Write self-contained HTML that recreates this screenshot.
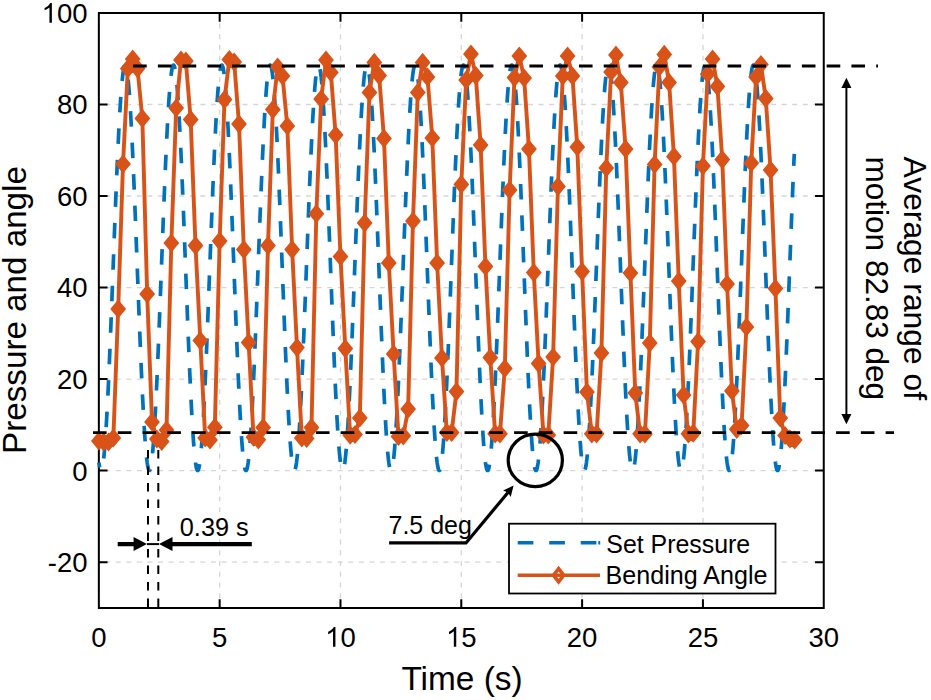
<!DOCTYPE html><html><head><meta charset="utf-8"><style>html,body{margin:0;padding:0;background:#fff;}svg{display:block;}</style></head><body>
<svg width="931" height="700" viewBox="0 0 931 700">
<rect x="0" y="0" width="931" height="700" fill="#fff"/>
<path d="M219.66 12.95 L219.66 607.9 M340.48 12.95 L340.48 607.9 M461.29 12.95 L461.29 607.9 M582.11 12.95 L582.11 607.9 M702.93 12.95 L702.93 607.9" stroke="#d6d6d6" stroke-width="1.3" stroke-dasharray="5 5.75" stroke-dashoffset="0.20" fill="none"/>
<path d="M98.85 562.13 L823.75 562.13 M98.85 470.60 L823.75 470.60 M98.85 379.07 L823.75 379.07 M98.85 287.54 L823.75 287.54 M98.85 196.01 L823.75 196.01 M98.85 104.48 L823.75 104.48" stroke="#d6d6d6" stroke-width="1.3" stroke-dasharray="5 5.57" stroke-dashoffset="4.24" fill="none"/>
<path d="M98.85 12.95 L823.75 12.95 L823.75 607.9 L98.85 607.9 Z M219.66 607.9 L219.66 600.20 M219.66 12.95 L219.66 20.65 M340.48 607.9 L340.48 600.20 M340.48 12.95 L340.48 20.65 M461.29 607.9 L461.29 600.20 M461.29 12.95 L461.29 20.65 M582.11 607.9 L582.11 600.20 M582.11 12.95 L582.11 20.65 M702.93 607.9 L702.93 600.20 M702.93 12.95 L702.93 20.65 M98.85 562.13 L106.55 562.13 M823.75 562.13 L816.05 562.13 M98.85 470.60 L106.55 470.60 M823.75 470.60 L816.05 470.60 M98.85 379.07 L106.55 379.07 M823.75 379.07 L816.05 379.07 M98.85 287.54 L106.55 287.54 M823.75 287.54 L816.05 287.54 M98.85 196.01 L106.55 196.01 M823.75 196.01 L816.05 196.01 M98.85 104.48 L106.55 104.48 M823.75 104.48 L816.05 104.48" stroke="#000" stroke-width="2" fill="none" stroke-linejoin="miter" stroke-linecap="square"/>
<path d="M98.85 462.55 L99.33 465.72 L99.82 468.10 L100.30 469.70 L100.78 470.50 L101.27 470.50 L101.75 469.70 L102.23 468.10 L102.72 465.72 L103.20 462.55 L103.68 458.61 L104.17 453.93 L104.65 448.50 L105.13 442.37 L105.62 435.54 L106.10 428.06 L106.58 419.94 L107.07 411.22 L107.55 401.93 L108.03 392.12 L108.52 381.82 L109.00 371.06 L109.48 359.90 L109.96 348.38 L110.45 336.54 L110.93 324.42 L111.41 312.09 L111.90 299.58 L112.38 286.94 L112.86 274.23 L113.35 261.49 L113.83 248.78 L114.31 236.15 L114.80 223.63 L115.28 211.30 L115.76 199.19 L116.25 187.34 L116.73 175.82 L117.21 164.66 L117.70 153.90 L118.18 143.60 L118.66 133.79 L119.15 124.50 L119.63 115.78 L120.11 107.67 L120.60 100.18 L121.08 93.36 L121.56 87.22 L122.05 81.80 L122.53 77.11 L123.01 73.17 L123.50 70.00 L123.98 67.62 L124.46 66.02 L124.95 65.22 L125.43 65.22 L125.91 66.02 L126.40 67.62 L126.88 70.00 L127.36 73.17 L127.85 77.11 L128.33 81.80 L128.81 87.22 L129.30 93.36 L129.78 100.18 L130.26 107.67 L130.75 115.78 L131.23 124.50 L131.71 133.79 L132.19 143.60 L132.68 153.90 L133.16 164.66 L133.64 175.82 L134.13 187.34 L134.61 199.19 L135.09 211.30 L135.58 223.63 L136.06 236.15 L136.54 248.78 L137.03 261.49 L137.51 274.23 L137.99 286.94 L138.48 299.58 L138.96 312.09 L139.44 324.42 L139.93 336.54 L140.41 348.38 L140.89 359.90 L141.38 371.06 L141.86 381.82 L142.34 392.12 L142.83 401.93 L143.31 411.22 L143.79 419.94 L144.28 428.06 L144.76 435.54 L145.24 442.37 L145.73 448.50 L146.21 453.93 L146.69 458.61 L147.18 462.55 L147.66 465.72 L148.14 468.10 L148.63 469.70 L149.11 470.50 L149.59 470.50 L150.08 469.70 L150.56 468.10 L151.04 465.72 L151.53 462.55 L152.01 458.61 L152.49 453.93 L152.98 448.50 L153.46 442.37 L153.94 435.54 L154.42 428.06 L154.91 419.94 L155.39 411.22 L155.87 401.93 L156.36 392.12 L156.84 381.82 L157.32 371.06 L157.81 359.90 L158.29 348.38 L158.77 336.54 L159.26 324.42 L159.74 312.09 L160.22 299.58 L160.71 286.94 L161.19 274.23 L161.67 261.49 L162.16 248.78 L162.64 236.15 L163.12 223.63 L163.61 211.30 L164.09 199.19 L164.57 187.34 L165.06 175.82 L165.54 164.66 L166.02 153.90 L166.51 143.60 L166.99 133.79 L167.47 124.50 L167.96 115.78 L168.44 107.67 L168.92 100.18 L169.41 93.36 L169.89 87.22 L170.37 81.80 L170.86 77.11 L171.34 73.17 L171.82 70.00 L172.31 67.62 L172.79 66.02 L173.27 65.22 L173.76 65.22 L174.24 66.02 L174.72 67.62 L175.21 70.00 L175.69 73.17 L176.17 77.11 L176.65 81.80 L177.14 87.22 L177.62 93.36 L178.10 100.18 L178.59 107.67 L179.07 115.78 L179.55 124.50 L180.04 133.79 L180.52 143.60 L181.00 153.90 L181.49 164.66 L181.97 175.82 L182.45 187.34 L182.94 199.19 L183.42 211.30 L183.90 223.63 L184.39 236.15 L184.87 248.78 L185.35 261.49 L185.84 274.23 L186.32 286.94 L186.80 299.58 L187.29 312.09 L187.77 324.42 L188.25 336.54 L188.74 348.38 L189.22 359.90 L189.70 371.06 L190.19 381.82 L190.67 392.12 L191.15 401.93 L191.64 411.22 L192.12 419.94 L192.60 428.06 L193.09 435.54 L193.57 442.37 L194.05 448.50 L194.54 453.93 L195.02 458.61 L195.50 462.55 L195.99 465.72 L196.47 468.10 L196.95 469.70 L197.44 470.50 L197.92 470.50 L198.40 469.70 L198.88 468.10 L199.37 465.72 L199.85 462.55 L200.33 458.61 L200.82 453.93 L201.30 448.50 L201.78 442.37 L202.27 435.54 L202.75 428.06 L203.23 419.94 L203.72 411.22 L204.20 401.93 L204.68 392.12 L205.17 381.82 L205.65 371.06 L206.13 359.90 L206.62 348.38 L207.10 336.54 L207.58 324.42 L208.07 312.09 L208.55 299.58 L209.03 286.94 L209.52 274.23 L210.00 261.49 L210.48 248.78 L210.97 236.15 L211.45 223.63 L211.93 211.30 L212.42 199.19 L212.90 187.34 L213.38 175.82 L213.87 164.66 L214.35 153.90 L214.83 143.60 L215.32 133.79 L215.80 124.50 L216.28 115.78 L216.77 107.67 L217.25 100.18 L217.73 93.36 L218.22 87.22 L218.70 81.80 L219.18 77.11 L219.66 73.17 L220.15 70.00 L220.63 67.62 L221.11 66.02 L221.60 65.22 L222.08 65.22 L222.56 66.02 L223.05 67.62 L223.53 70.00 L224.01 73.17 L224.50 77.11 L224.98 81.80 L225.46 87.22 L225.95 93.36 L226.43 100.18 L226.91 107.67 L227.40 115.78 L227.88 124.50 L228.36 133.79 L228.85 143.60 L229.33 153.90 L229.81 164.66 L230.30 175.82 L230.78 187.34 L231.26 199.19 L231.75 211.30 L232.23 223.63 L232.71 236.15 L233.20 248.78 L233.68 261.49 L234.16 274.23 L234.65 286.94 L235.13 299.58 L235.61 312.09 L236.10 324.42 L236.58 336.54 L237.06 348.38 L237.55 359.90 L238.03 371.06 L238.51 381.82 L239.00 392.12 L239.48 401.93 L239.96 411.22 L240.45 419.94 L240.93 428.06 L241.41 435.54 L241.89 442.37 L242.38 448.50 L242.86 453.93 L243.34 458.61 L243.83 462.55 L244.31 465.72 L244.79 468.10 L245.28 469.70 L245.76 470.50 L246.24 470.50 L246.73 469.70 L247.21 468.10 L247.69 465.72 L248.18 462.55 L248.66 458.61 L249.14 453.93 L249.63 448.50 L250.11 442.37 L250.59 435.54 L251.08 428.06 L251.56 419.94 L252.04 411.22 L252.53 401.93 L253.01 392.12 L253.49 381.82 L253.98 371.06 L254.46 359.90 L254.94 348.38 L255.43 336.54 L255.91 324.42 L256.39 312.09 L256.88 299.58 L257.36 286.94 L257.84 274.23 L258.33 261.49 L258.81 248.78 L259.29 236.15 L259.78 223.63 L260.26 211.30 L260.74 199.19 L261.23 187.34 L261.71 175.82 L262.19 164.66 L262.68 153.90 L263.16 143.60 L263.64 133.79 L264.12 124.50 L264.61 115.78 L265.09 107.67 L265.57 100.18 L266.06 93.36 L266.54 87.22 L267.02 81.80 L267.51 77.11 L267.99 73.17 L268.47 70.00 L268.96 67.62 L269.44 66.02 L269.92 65.22 L270.41 65.22 L270.89 66.02 L271.37 67.62 L271.86 70.00 L272.34 73.17 L272.82 77.11 L273.31 81.80 L273.79 87.22 L274.27 93.36 L274.76 100.18 L275.24 107.67 L275.72 115.78 L276.21 124.50 L276.69 133.79 L277.17 143.60 L277.66 153.90 L278.14 164.66 L278.62 175.82 L279.11 187.34 L279.59 199.19 L280.07 211.30 L280.56 223.63 L281.04 236.15 L281.52 248.78 L282.01 261.49 L282.49 274.23 L282.97 286.94 L283.46 299.58 L283.94 312.09 L284.42 324.42 L284.91 336.54 L285.39 348.38 L285.87 359.90 L286.35 371.06 L286.84 381.82 L287.32 392.12 L287.80 401.93 L288.29 411.22 L288.77 419.94 L289.25 428.06 L289.74 435.54 L290.22 442.37 L290.70 448.50 L291.19 453.93 L291.67 458.61 L292.15 462.55 L292.64 465.72 L293.12 468.10 L293.60 469.70 L294.09 470.50 L294.57 470.50 L295.05 469.70 L295.54 468.10 L296.02 465.72 L296.50 462.55 L296.99 458.61 L297.47 453.93 L297.95 448.50 L298.44 442.37 L298.92 435.54 L299.40 428.06 L299.89 419.94 L300.37 411.22 L300.85 401.93 L301.34 392.12 L301.82 381.82 L302.30 371.06 L302.79 359.90 L303.27 348.38 L303.75 336.54 L304.24 324.42 L304.72 312.09 L305.20 299.58 L305.69 286.94 L306.17 274.23 L306.65 261.49 L307.14 248.78 L307.62 236.15 L308.10 223.63 L308.58 211.30 L309.07 199.19 L309.55 187.34 L310.03 175.82 L310.52 164.66 L311.00 153.90 L311.48 143.60 L311.97 133.79 L312.45 124.50 L312.93 115.78 L313.42 107.67 L313.90 100.18 L314.38 93.36 L314.87 87.22 L315.35 81.80 L315.83 77.11 L316.32 73.17 L316.80 70.00 L317.28 67.62 L317.77 66.02 L318.25 65.22 L318.73 65.22 L319.22 66.02 L319.70 67.62 L320.18 70.00 L320.67 73.17 L321.15 77.11 L321.63 81.80 L322.12 87.22 L322.60 93.36 L323.08 100.18 L323.57 107.67 L324.05 115.78 L324.53 124.50 L325.02 133.79 L325.50 143.60 L325.98 153.90 L326.47 164.66 L326.95 175.82 L327.43 187.34 L327.92 199.19 L328.40 211.30 L328.88 223.63 L329.37 236.15 L329.85 248.78 L330.33 261.49 L330.81 274.23 L331.30 286.94 L331.78 299.58 L332.26 312.09 L332.75 324.42 L333.23 336.54 L333.71 348.38 L334.20 359.90 L334.68 371.06 L335.16 381.82 L335.65 392.12 L336.13 401.93 L336.61 411.22 L337.10 419.94 L337.58 428.06 L338.06 435.54 L338.55 442.37 L339.03 448.50 L339.51 453.93 L340.00 458.61 L340.48 462.55 L340.96 465.72 L341.45 468.10 L341.93 469.70 L342.41 470.50 L342.90 470.50 L343.38 469.70 L343.86 468.10 L344.35 465.72 L344.83 462.55 L345.31 458.61 L345.80 453.93 L346.28 448.50 L346.76 442.37 L347.25 435.54 L347.73 428.06 L348.21 419.94 L348.70 411.22 L349.18 401.93 L349.66 392.12 L350.15 381.82 L350.63 371.06 L351.11 359.90 L351.59 348.38 L352.08 336.54 L352.56 324.42 L353.04 312.09 L353.53 299.58 L354.01 286.94 L354.49 274.23 L354.98 261.49 L355.46 248.78 L355.94 236.15 L356.43 223.63 L356.91 211.30 L357.39 199.19 L357.88 187.34 L358.36 175.82 L358.84 164.66 L359.33 153.90 L359.81 143.60 L360.29 133.79 L360.78 124.50 L361.26 115.78 L361.74 107.67 L362.23 100.18 L362.71 93.36 L363.19 87.22 L363.68 81.80 L364.16 77.11 L364.64 73.17 L365.13 70.00 L365.61 67.62 L366.09 66.02 L366.58 65.22 L367.06 65.22 L367.54 66.02 L368.03 67.62 L368.51 70.00 L368.99 73.17 L369.48 77.11 L369.96 81.80 L370.44 87.22 L370.93 93.36 L371.41 100.18 L371.89 107.67 L372.38 115.78 L372.86 124.50 L373.34 133.79 L373.82 143.60 L374.31 153.90 L374.79 164.66 L375.27 175.82 L375.76 187.34 L376.24 199.19 L376.72 211.30 L377.21 223.63 L377.69 236.15 L378.17 248.78 L378.66 261.49 L379.14 274.23 L379.62 286.94 L380.11 299.58 L380.59 312.09 L381.07 324.42 L381.56 336.54 L382.04 348.38 L382.52 359.90 L383.01 371.06 L383.49 381.82 L383.97 392.12 L384.46 401.93 L384.94 411.22 L385.42 419.94 L385.91 428.06 L386.39 435.54 L386.87 442.37 L387.36 448.50 L387.84 453.93 L388.32 458.61 L388.81 462.55 L389.29 465.72 L389.77 468.10 L390.26 469.70 L390.74 470.50 L391.22 470.50 L391.71 469.70 L392.19 468.10 L392.67 465.72 L393.16 462.55 L393.64 458.61 L394.12 453.93 L394.61 448.50 L395.09 442.37 L395.57 435.54 L396.05 428.06 L396.54 419.94 L397.02 411.22 L397.50 401.93 L397.99 392.12 L398.47 381.82 L398.95 371.06 L399.44 359.90 L399.92 348.38 L400.40 336.54 L400.89 324.42 L401.37 312.09 L401.85 299.58 L402.34 286.94 L402.82 274.23 L403.30 261.49 L403.79 248.78 L404.27 236.15 L404.75 223.63 L405.24 211.30 L405.72 199.19 L406.20 187.34 L406.69 175.82 L407.17 164.66 L407.65 153.90 L408.14 143.60 L408.62 133.79 L409.10 124.50 L409.59 115.78 L410.07 107.67 L410.55 100.18 L411.04 93.36 L411.52 87.22 L412.00 81.80 L412.49 77.11 L412.97 73.17 L413.45 70.00 L413.94 67.62 L414.42 66.02 L414.90 65.22 L415.39 65.22 L415.87 66.02 L416.35 67.62 L416.84 70.00 L417.32 73.17 L417.80 77.11 L418.28 81.80 L418.77 87.22 L419.25 93.36 L419.73 100.18 L420.22 107.67 L420.70 115.78 L421.18 124.50 L421.67 133.79 L422.15 143.60 L422.63 153.90 L423.12 164.66 L423.60 175.82 L424.08 187.34 L424.57 199.19 L425.05 211.30 L425.53 223.63 L426.02 236.15 L426.50 248.78 L426.98 261.49 L427.47 274.23 L427.95 286.94 L428.43 299.58 L428.92 312.09 L429.40 324.42 L429.88 336.54 L430.37 348.38 L430.85 359.90 L431.33 371.06 L431.82 381.82 L432.30 392.12 L432.78 401.93 L433.27 411.22 L433.75 419.94 L434.23 428.06 L434.72 435.54 L435.20 442.37 L435.68 448.50 L436.17 453.93 L436.65 458.61 L437.13 462.55 L437.62 465.72 L438.10 468.10 L438.58 469.70 L439.07 470.50 L439.55 470.50 L440.03 469.70 L440.51 468.10 L441.00 465.72 L441.48 462.55 L441.96 458.61 L442.45 453.93 L442.93 448.50 L443.41 442.37 L443.90 435.54 L444.38 428.06 L444.86 419.94 L445.35 411.22 L445.83 401.93 L446.31 392.12 L446.80 381.82 L447.28 371.06 L447.76 359.90 L448.25 348.38 L448.73 336.54 L449.21 324.42 L449.70 312.09 L450.18 299.58 L450.66 286.94 L451.15 274.23 L451.63 261.49 L452.11 248.78 L452.60 236.15 L453.08 223.63 L453.56 211.30 L454.05 199.19 L454.53 187.34 L455.01 175.82 L455.50 164.66 L455.98 153.90 L456.46 143.60 L456.95 133.79 L457.43 124.50 L457.91 115.78 L458.40 107.67 L458.88 100.18 L459.36 93.36 L459.85 87.22 L460.33 81.80 L460.81 77.11 L461.29 73.17 L461.78 70.00 L462.26 67.62 L462.74 66.02 L463.23 65.22 L463.71 65.22 L464.19 66.02 L464.68 67.62 L465.16 70.00 L465.64 73.17 L466.13 77.11 L466.61 81.80 L467.09 87.22 L467.58 93.36 L468.06 100.18 L468.54 107.67 L469.03 115.78 L469.51 124.50 L469.99 133.79 L470.48 143.60 L470.96 153.90 L471.44 164.66 L471.93 175.82 L472.41 187.34 L472.89 199.19 L473.38 211.30 L473.86 223.63 L474.34 236.15 L474.83 248.78 L475.31 261.49 L475.79 274.23 L476.28 286.94 L476.76 299.58 L477.24 312.09 L477.73 324.42 L478.21 336.54 L478.69 348.38 L479.18 359.90 L479.66 371.06 L480.14 381.82 L480.63 392.12 L481.11 401.93 L481.59 411.22 L482.08 419.94 L482.56 428.06 L483.04 435.54 L483.52 442.37 L484.01 448.50 L484.49 453.93 L484.97 458.61 L485.46 462.55 L485.94 465.72 L486.42 468.10 L486.91 469.70 L487.39 470.50 L487.87 470.50 L488.36 469.70 L488.84 468.10 L489.32 465.72 L489.81 462.55 L490.29 458.61 L490.77 453.93 L491.26 448.50 L491.74 442.37 L492.22 435.54 L492.71 428.06 L493.19 419.94 L493.67 411.22 L494.16 401.93 L494.64 392.12 L495.12 381.82 L495.61 371.06 L496.09 359.90 L496.57 348.38 L497.06 336.54 L497.54 324.42 L498.02 312.09 L498.51 299.58 L498.99 286.94 L499.47 274.23 L499.96 261.49 L500.44 248.78 L500.92 236.15 L501.41 223.63 L501.89 211.30 L502.37 199.19 L502.86 187.34 L503.34 175.82 L503.82 164.66 L504.31 153.90 L504.79 143.60 L505.27 133.79 L505.75 124.50 L506.24 115.78 L506.72 107.67 L507.20 100.18 L507.69 93.36 L508.17 87.22 L508.65 81.80 L509.14 77.11 L509.62 73.17 L510.10 70.00 L510.59 67.62 L511.07 66.02 L511.55 65.22 L512.04 65.22 L512.52 66.02 L513.00 67.62 L513.49 70.00 L513.97 73.17 L514.45 77.11 L514.94 81.80 L515.42 87.22 L515.90 93.36 L516.39 100.18 L516.87 107.67 L517.35 115.78 L517.84 124.50 L518.32 133.79 L518.80 143.60 L519.29 153.90 L519.77 164.66 L520.25 175.82 L520.74 187.34 L521.22 199.19 L521.70 211.30 L522.19 223.63 L522.67 236.15 L523.15 248.78 L523.64 261.49 L524.12 274.23 L524.60 286.94 L525.09 299.58 L525.57 312.09 L526.05 324.42 L526.54 336.54 L527.02 348.38 L527.50 359.90 L527.98 371.06 L528.47 381.82 L528.95 392.12 L529.43 401.93 L529.92 411.22 L530.40 419.94 L530.88 428.06 L531.37 435.54 L531.85 442.37 L532.33 448.50 L532.82 453.93 L533.30 458.61 L533.78 462.55 L534.27 465.72 L534.75 468.10 L535.23 469.70 L535.72 470.50 L536.20 470.50 L536.68 469.70 L537.17 468.10 L537.65 465.72 L538.13 462.55 L538.62 458.61 L539.10 453.93 L539.58 448.50 L540.07 442.37 L540.55 435.54 L541.03 428.06 L541.52 419.94 L542.00 411.22 L542.48 401.93 L542.97 392.12 L543.45 381.82 L543.93 371.06 L544.42 359.90 L544.90 348.38 L545.38 336.54 L545.87 324.42 L546.35 312.09 L546.83 299.58 L547.32 286.94 L547.80 274.23 L548.28 261.49 L548.77 248.78 L549.25 236.15 L549.73 223.63 L550.21 211.30 L550.70 199.19 L551.18 187.34 L551.66 175.82 L552.15 164.66 L552.63 153.90 L553.11 143.60 L553.60 133.79 L554.08 124.50 L554.56 115.78 L555.05 107.67 L555.53 100.18 L556.01 93.36 L556.50 87.22 L556.98 81.80 L557.46 77.11 L557.95 73.17 L558.43 70.00 L558.91 67.62 L559.40 66.02 L559.88 65.22 L560.36 65.22 L560.85 66.02 L561.33 67.62 L561.81 70.00 L562.30 73.17 L562.78 77.11 L563.26 81.80 L563.75 87.22 L564.23 93.36 L564.71 100.18 L565.20 107.67 L565.68 115.78 L566.16 124.50 L566.65 133.79 L567.13 143.60 L567.61 153.90 L568.10 164.66 L568.58 175.82 L569.06 187.34 L569.55 199.19 L570.03 211.30 L570.51 223.63 L571.00 236.15 L571.48 248.78 L571.96 261.49 L572.44 274.23 L572.93 286.94 L573.41 299.58 L573.89 312.09 L574.38 324.42 L574.86 336.54 L575.34 348.38 L575.83 359.90 L576.31 371.06 L576.79 381.82 L577.28 392.12 L577.76 401.93 L578.24 411.22 L578.73 419.94 L579.21 428.06 L579.69 435.54 L580.18 442.37 L580.66 448.50 L581.14 453.93 L581.63 458.61 L582.11 462.55 L582.59 465.72 L583.08 468.10 L583.56 469.70 L584.04 470.50 L584.53 470.50 L585.01 469.70 L585.49 468.10 L585.98 465.72 L586.46 462.55 L586.94 458.61 L587.43 453.93 L587.91 448.50 L588.39 442.37 L588.88 435.54 L589.36 428.06 L589.84 419.94 L590.33 411.22 L590.81 401.93 L591.29 392.12 L591.78 381.82 L592.26 371.06 L592.74 359.90 L593.22 348.38 L593.71 336.54 L594.19 324.42 L594.67 312.09 L595.16 299.58 L595.64 286.94 L596.12 274.23 L596.61 261.49 L597.09 248.78 L597.57 236.15 L598.06 223.63 L598.54 211.30 L599.02 199.19 L599.51 187.34 L599.99 175.82 L600.47 164.66 L600.96 153.90 L601.44 143.60 L601.92 133.79 L602.41 124.50 L602.89 115.78 L603.37 107.67 L603.86 100.18 L604.34 93.36 L604.82 87.22 L605.31 81.80 L605.79 77.11 L606.27 73.17 L606.76 70.00 L607.24 67.62 L607.72 66.02 L608.21 65.22 L608.69 65.22 L609.17 66.02 L609.66 67.62 L610.14 70.00 L610.62 73.17 L611.11 77.11 L611.59 81.80 L612.07 87.22 L612.56 93.36 L613.04 100.18 L613.52 107.67 L614.01 115.78 L614.49 124.50 L614.97 133.79 L615.45 143.60 L615.94 153.90 L616.42 164.66 L616.90 175.82 L617.39 187.34 L617.87 199.19 L618.35 211.30 L618.84 223.63 L619.32 236.15 L619.80 248.78 L620.29 261.49 L620.77 274.23 L621.25 286.94 L621.74 299.58 L622.22 312.09 L622.70 324.42 L623.19 336.54 L623.67 348.38 L624.15 359.90 L624.64 371.06 L625.12 381.82 L625.60 392.12 L626.09 401.93 L626.57 411.22 L627.05 419.94 L627.54 428.06 L628.02 435.54 L628.50 442.37 L628.99 448.50 L629.47 453.93 L629.95 458.61 L630.44 462.55 L630.92 465.72 L631.40 468.10 L631.89 469.70 L632.37 470.50 L632.85 470.50 L633.34 469.70 L633.82 468.10 L634.30 465.72 L634.79 462.55 L635.27 458.61 L635.75 453.93 L636.24 448.50 L636.72 442.37 L637.20 435.54 L637.68 428.06 L638.17 419.94 L638.65 411.22 L639.13 401.93 L639.62 392.12 L640.10 381.82 L640.58 371.06 L641.07 359.90 L641.55 348.38 L642.03 336.54 L642.52 324.42 L643.00 312.09 L643.48 299.58 L643.97 286.94 L644.45 274.23 L644.93 261.49 L645.42 248.78 L645.90 236.15 L646.38 223.63 L646.87 211.30 L647.35 199.19 L647.83 187.34 L648.32 175.82 L648.80 164.66 L649.28 153.90 L649.77 143.60 L650.25 133.79 L650.73 124.50 L651.22 115.78 L651.70 107.67 L652.18 100.18 L652.67 93.36 L653.15 87.22 L653.63 81.80 L654.12 77.11 L654.60 73.17 L655.08 70.00 L655.57 67.62 L656.05 66.02 L656.53 65.22 L657.02 65.22 L657.50 66.02 L657.98 67.62 L658.47 70.00 L658.95 73.17 L659.43 77.11 L659.91 81.80 L660.40 87.22 L660.88 93.36 L661.36 100.18 L661.85 107.67 L662.33 115.78 L662.81 124.50 L663.30 133.79 L663.78 143.60 L664.26 153.90 L664.75 164.66 L665.23 175.82 L665.71 187.34 L666.20 199.19 L666.68 211.30 L667.16 223.63 L667.65 236.15 L668.13 248.78 L668.61 261.49 L669.10 274.23 L669.58 286.94 L670.06 299.58 L670.55 312.09 L671.03 324.42 L671.51 336.54 L672.00 348.38 L672.48 359.90 L672.96 371.06 L673.45 381.82 L673.93 392.12 L674.41 401.93 L674.90 411.22 L675.38 419.94 L675.86 428.06 L676.35 435.54 L676.83 442.37 L677.31 448.50 L677.80 453.93 L678.28 458.61 L678.76 462.55 L679.25 465.72 L679.73 468.10 L680.21 469.70 L680.70 470.50 L681.18 470.50 L681.66 469.70 L682.14 468.10 L682.63 465.72 L683.11 462.55 L683.59 458.61 L684.08 453.93 L684.56 448.50 L685.04 442.37 L685.53 435.54 L686.01 428.06 L686.49 419.94 L686.98 411.22 L687.46 401.93 L687.94 392.12 L688.43 381.82 L688.91 371.06 L689.39 359.90 L689.88 348.38 L690.36 336.54 L690.84 324.42 L691.33 312.09 L691.81 299.58 L692.29 286.94 L692.78 274.23 L693.26 261.49 L693.74 248.78 L694.23 236.15 L694.71 223.63 L695.19 211.30 L695.68 199.19 L696.16 187.34 L696.64 175.82 L697.13 164.66 L697.61 153.90 L698.09 143.60 L698.58 133.79 L699.06 124.50 L699.54 115.78 L700.03 107.67 L700.51 100.18 L700.99 93.36 L701.48 87.22 L701.96 81.80 L702.44 77.11 L702.92 73.17 L703.41 70.00 L703.89 67.62 L704.37 66.02 L704.86 65.22 L705.34 65.22 L705.82 66.02 L706.31 67.62 L706.79 70.00 L707.27 73.17 L707.76 77.11 L708.24 81.80 L708.72 87.22 L709.21 93.36 L709.69 100.18 L710.17 107.67 L710.66 115.78 L711.14 124.50 L711.62 133.79 L712.11 143.60 L712.59 153.90 L713.07 164.66 L713.56 175.82 L714.04 187.34 L714.52 199.19 L715.01 211.30 L715.49 223.63 L715.97 236.15 L716.46 248.78 L716.94 261.49 L717.42 274.23 L717.91 286.94 L718.39 299.58 L718.87 312.09 L719.36 324.42 L719.84 336.54 L720.32 348.38 L720.81 359.90 L721.29 371.06 L721.77 381.82 L722.26 392.12 L722.74 401.93 L723.22 411.22 L723.71 419.94 L724.19 428.06 L724.67 435.54 L725.15 442.37 L725.64 448.50 L726.12 453.93 L726.60 458.61 L727.09 462.55 L727.57 465.72 L728.05 468.10 L728.54 469.70 L729.02 470.50 L729.50 470.50 L729.99 469.70 L730.47 468.10 L730.95 465.72 L731.44 462.55 L731.92 458.61 L732.40 453.93 L732.89 448.50 L733.37 442.37 L733.85 435.54 L734.34 428.06 L734.82 419.94 L735.30 411.22 L735.79 401.93 L736.27 392.12 L736.75 381.82 L737.24 371.06 L737.72 359.90 L738.20 348.38 L738.69 336.54 L739.17 324.42 L739.65 312.09 L740.14 299.58 L740.62 286.94 L741.10 274.23 L741.59 261.49 L742.07 248.78 L742.55 236.15 L743.04 223.63 L743.52 211.30 L744.00 199.19 L744.49 187.34 L744.97 175.82 L745.45 164.66 L745.94 153.90 L746.42 143.60 L746.90 133.79 L747.38 124.50 L747.87 115.78 L748.35 107.67 L748.83 100.18 L749.32 93.36 L749.80 87.22 L750.28 81.80 L750.77 77.11 L751.25 73.17 L751.73 70.00 L752.22 67.62 L752.70 66.02 L753.18 65.22 L753.67 65.22 L754.15 66.02 L754.63 67.62 L755.12 70.00 L755.60 73.17 L756.08 77.11 L756.57 81.80 L757.05 87.22 L757.53 93.36 L758.02 100.18 L758.50 107.67 L758.98 115.78 L759.47 124.50 L759.95 133.79 L760.43 143.60 L760.92 153.90 L761.40 164.66 L761.88 175.82 L762.37 187.34 L762.85 199.19 L763.33 211.30 L763.82 223.63 L764.30 236.15 L764.78 248.78 L765.27 261.49 L765.75 274.23 L766.23 286.94 L766.72 299.58 L767.20 312.09 L767.68 324.42 L768.17 336.54 L768.65 348.38 L769.13 359.90 L769.61 371.06 L770.10 381.82 L770.58 392.12 L771.06 401.93 L771.55 411.22 L772.03 419.94 L772.51 428.06 L773.00 435.54 L773.48 442.37 L773.96 448.50 L774.45 453.93 L774.93 458.61 L775.41 462.55 L775.90 465.72 L776.38 468.10 L776.86 469.70 L777.35 470.50 L777.83 470.50 L778.31 469.70 L778.80 468.10 L779.28 465.72 L779.76 462.55 L780.25 458.61 L780.73 453.93 L781.21 448.50 L781.70 442.37 L782.18 435.54 L782.66 428.06 L783.15 419.94 L783.63 411.22 L784.11 401.93 L784.60 392.12 L785.08 381.82 L785.56 371.06 L786.05 359.90 L786.53 348.38 L787.01 336.54 L787.50 324.42 L787.98 312.09 L788.46 299.58 L788.95 286.94 L789.43 274.23 L789.91 261.49 L790.40 248.78 L790.88 236.15 L791.36 223.63 L791.84 211.30 L792.33 199.19 L792.81 187.34 L793.29 175.82 L793.78 164.66 L794.26 153.90" stroke="#0072BD" stroke-width="3.7" stroke-dasharray="15.5 16.0" stroke-dashoffset="10.49" fill="none" stroke-linejoin="round"/>
<path d="M98.85 441.00 L103.68 442.00 L108.52 442.00 L113.35 438.00 L118.18 309.00 L123.01 164.00 L127.85 68.60 L132.68 59.00 L137.51 68.60 L142.34 118.40 L147.18 294.00 L152.01 422.00 L156.84 439.00 L161.67 441.50 L166.51 430.00 L171.34 243.00 L176.17 108.00 L181.00 60.00 L185.84 61.00 L190.67 119.60 L195.50 245.60 L200.33 340.60 L205.17 437.90 L210.00 440.00 L214.83 427.30 L219.66 241.00 L224.50 99.60 L229.33 59.60 L234.16 62.00 L239.00 124.00 L243.83 249.60 L248.66 342.60 L253.49 437.20 L258.33 439.80 L263.16 427.50 L267.99 245.60 L272.82 109.60 L277.66 67.00 L282.49 76.00 L287.32 126.00 L292.15 249.60 L296.99 347.60 L301.82 437.90 L306.65 438.50 L311.48 427.50 L316.32 213.70 L321.15 99.00 L325.98 60.00 L330.81 72.40 L335.65 135.00 L340.48 256.60 L345.31 348.60 L350.15 435.10 L354.98 434.50 L359.81 418.00 L364.64 223.00 L369.48 92.40 L374.31 62.40 L379.14 75.60 L383.97 138.40 L388.81 263.00 L393.64 354.00 L398.47 436.40 L403.30 435.80 L408.14 409.00 L412.97 221.00 L417.80 92.40 L422.63 62.40 L427.47 77.00 L432.30 138.00 L437.13 263.00 L441.96 358.00 L446.80 432.50 L451.63 432.50 L456.46 391.60 L461.29 184.40 L466.13 80.00 L470.96 54.00 L475.79 75.60 L480.63 145.00 L485.46 266.40 L490.29 357.60 L495.12 433.80 L499.96 433.80 L504.79 368.40 L509.62 190.00 L514.45 77.60 L519.29 56.00 L524.12 78.00 L528.95 149.00 L533.78 272.60 L538.62 363.60 L543.45 435.00 L548.28 435.00 L553.11 357.00 L557.95 186.40 L562.78 76.00 L567.61 56.00 L572.44 76.00 L577.28 147.00 L582.11 271.60 L586.94 392.00 L591.78 433.80 L596.61 433.80 L601.44 353.00 L606.27 168.00 L611.11 72.00 L615.94 55.00 L620.77 82.40 L625.60 149.00 L630.44 273.00 L635.27 393.00 L640.10 433.80 L644.93 434.00 L649.77 343.00 L654.60 164.40 L659.43 67.00 L664.26 54.40 L669.10 82.40 L673.93 156.40 L678.76 281.00 L683.59 395.00 L688.43 433.80 L693.26 433.20 L698.09 341.60 L702.93 166.00 L707.76 74.00 L712.59 59.00 L717.42 86.40 L722.26 159.60 L727.09 284.00 L731.92 391.00 L736.75 429.30 L741.59 425.50 L746.42 327.00 L751.25 163.00 L756.08 77.00 L760.92 64.50 L765.75 98.40 L770.58 170.00 L775.41 288.40 L780.25 418.00 L785.08 435.50 L789.91 439.00 L794.74 440.00" stroke="#D95319" stroke-width="3.9" fill="none" stroke-linejoin="round"/>
<path d="M98.85 431.40L106.75 441.00L98.85 450.60L90.95 441.00ZM103.68 432.40L111.58 442.00L103.68 451.60L95.78 442.00ZM108.52 432.40L116.42 442.00L108.52 451.60L100.62 442.00ZM113.35 428.40L121.25 438.00L113.35 447.60L105.45 438.00ZM118.18 299.40L126.08 309.00L118.18 318.60L110.28 309.00ZM123.01 154.40L130.91 164.00L123.01 173.60L115.11 164.00ZM127.85 59.00L135.75 68.60L127.85 78.20L119.95 68.60ZM132.68 49.40L140.58 59.00L132.68 68.60L124.78 59.00ZM137.51 59.00L145.41 68.60L137.51 78.20L129.61 68.60ZM142.34 108.80L150.24 118.40L142.34 128.00L134.44 118.40ZM147.18 284.40L155.08 294.00L147.18 303.60L139.28 294.00ZM152.01 412.40L159.91 422.00L152.01 431.60L144.11 422.00ZM156.84 429.40L164.74 439.00L156.84 448.60L148.94 439.00ZM161.67 431.90L169.57 441.50L161.67 451.10L153.77 441.50ZM166.51 420.40L174.41 430.00L166.51 439.60L158.61 430.00ZM171.34 233.40L179.24 243.00L171.34 252.60L163.44 243.00ZM176.17 98.40L184.07 108.00L176.17 117.60L168.27 108.00ZM181.00 50.40L188.90 60.00L181.00 69.60L173.10 60.00ZM185.84 51.40L193.74 61.00L185.84 70.60L177.94 61.00ZM190.67 110.00L198.57 119.60L190.67 129.20L182.77 119.60ZM195.50 236.00L203.40 245.60L195.50 255.20L187.60 245.60ZM200.33 331.00L208.23 340.60L200.33 350.20L192.43 340.60ZM205.17 428.30L213.07 437.90L205.17 447.50L197.27 437.90ZM210.00 430.40L217.90 440.00L210.00 449.60L202.10 440.00ZM214.83 417.70L222.73 427.30L214.83 436.90L206.93 427.30ZM219.66 231.40L227.56 241.00L219.66 250.60L211.76 241.00ZM224.50 90.00L232.40 99.60L224.50 109.20L216.60 99.60ZM229.33 50.00L237.23 59.60L229.33 69.20L221.43 59.60ZM234.16 52.40L242.06 62.00L234.16 71.60L226.26 62.00ZM239.00 114.40L246.90 124.00L239.00 133.60L231.10 124.00ZM243.83 240.00L251.73 249.60L243.83 259.20L235.93 249.60ZM248.66 333.00L256.56 342.60L248.66 352.20L240.76 342.60ZM253.49 427.60L261.39 437.20L253.49 446.80L245.59 437.20ZM258.33 430.20L266.23 439.80L258.33 449.40L250.43 439.80ZM263.16 417.90L271.06 427.50L263.16 437.10L255.26 427.50ZM267.99 236.00L275.89 245.60L267.99 255.20L260.09 245.60ZM272.82 100.00L280.72 109.60L272.82 119.20L264.92 109.60ZM277.66 57.40L285.56 67.00L277.66 76.60L269.76 67.00ZM282.49 66.40L290.39 76.00L282.49 85.60L274.59 76.00ZM287.32 116.40L295.22 126.00L287.32 135.60L279.42 126.00ZM292.15 240.00L300.05 249.60L292.15 259.20L284.25 249.60ZM296.99 338.00L304.89 347.60L296.99 357.20L289.09 347.60ZM301.82 428.30L309.72 437.90L301.82 447.50L293.92 437.90ZM306.65 428.90L314.55 438.50L306.65 448.10L298.75 438.50ZM311.48 417.90L319.38 427.50L311.48 437.10L303.58 427.50ZM316.32 204.10L324.22 213.70L316.32 223.30L308.42 213.70ZM321.15 89.40L329.05 99.00L321.15 108.60L313.25 99.00ZM325.98 50.40L333.88 60.00L325.98 69.60L318.08 60.00ZM330.81 62.80L338.71 72.40L330.81 82.00L322.91 72.40ZM335.65 125.40L343.55 135.00L335.65 144.60L327.75 135.00ZM340.48 247.00L348.38 256.60L340.48 266.20L332.58 256.60ZM345.31 339.00L353.21 348.60L345.31 358.20L337.41 348.60ZM350.15 425.50L358.05 435.10L350.15 444.70L342.25 435.10ZM354.98 424.90L362.88 434.50L354.98 444.10L347.08 434.50ZM359.81 408.40L367.71 418.00L359.81 427.60L351.91 418.00ZM364.64 213.40L372.54 223.00L364.64 232.60L356.74 223.00ZM369.48 82.80L377.38 92.40L369.48 102.00L361.58 92.40ZM374.31 52.80L382.21 62.40L374.31 72.00L366.41 62.40ZM379.14 66.00L387.04 75.60L379.14 85.20L371.24 75.60ZM383.97 128.80L391.87 138.40L383.97 148.00L376.07 138.40ZM388.81 253.40L396.71 263.00L388.81 272.60L380.91 263.00ZM393.64 344.40L401.54 354.00L393.64 363.60L385.74 354.00ZM398.47 426.80L406.37 436.40L398.47 446.00L390.57 436.40ZM403.30 426.20L411.20 435.80L403.30 445.40L395.40 435.80ZM408.14 399.40L416.04 409.00L408.14 418.60L400.24 409.00ZM412.97 211.40L420.87 221.00L412.97 230.60L405.07 221.00ZM417.80 82.80L425.70 92.40L417.80 102.00L409.90 92.40ZM422.63 52.80L430.53 62.40L422.63 72.00L414.73 62.40ZM427.47 67.40L435.37 77.00L427.47 86.60L419.57 77.00ZM432.30 128.40L440.20 138.00L432.30 147.60L424.40 138.00ZM437.13 253.40L445.03 263.00L437.13 272.60L429.23 263.00ZM441.96 348.40L449.86 358.00L441.96 367.60L434.06 358.00ZM446.80 422.90L454.70 432.50L446.80 442.10L438.90 432.50ZM451.63 422.90L459.53 432.50L451.63 442.10L443.73 432.50ZM456.46 382.00L464.36 391.60L456.46 401.20L448.56 391.60ZM461.29 174.80L469.19 184.40L461.29 194.00L453.39 184.40ZM466.13 70.40L474.03 80.00L466.13 89.60L458.23 80.00ZM470.96 44.40L478.86 54.00L470.96 63.60L463.06 54.00ZM475.79 66.00L483.69 75.60L475.79 85.20L467.89 75.60ZM480.63 135.40L488.53 145.00L480.63 154.60L472.73 145.00ZM485.46 256.80L493.36 266.40L485.46 276.00L477.56 266.40ZM490.29 348.00L498.19 357.60L490.29 367.20L482.39 357.60ZM495.12 424.20L503.02 433.80L495.12 443.40L487.22 433.80ZM499.96 424.20L507.86 433.80L499.96 443.40L492.06 433.80ZM504.79 358.80L512.69 368.40L504.79 378.00L496.89 368.40ZM509.62 180.40L517.52 190.00L509.62 199.60L501.72 190.00ZM514.45 68.00L522.35 77.60L514.45 87.20L506.55 77.60ZM519.29 46.40L527.19 56.00L519.29 65.60L511.39 56.00ZM524.12 68.40L532.02 78.00L524.12 87.60L516.22 78.00ZM528.95 139.40L536.85 149.00L528.95 158.60L521.05 149.00ZM533.78 263.00L541.68 272.60L533.78 282.20L525.88 272.60ZM538.62 354.00L546.52 363.60L538.62 373.20L530.72 363.60ZM543.45 425.40L551.35 435.00L543.45 444.60L535.55 435.00ZM548.28 425.40L556.18 435.00L548.28 444.60L540.38 435.00ZM553.11 347.40L561.01 357.00L553.11 366.60L545.21 357.00ZM557.95 176.80L565.85 186.40L557.95 196.00L550.05 186.40ZM562.78 66.40L570.68 76.00L562.78 85.60L554.88 76.00ZM567.61 46.40L575.51 56.00L567.61 65.60L559.71 56.00ZM572.44 66.40L580.34 76.00L572.44 85.60L564.54 76.00ZM577.28 137.40L585.18 147.00L577.28 156.60L569.38 147.00ZM582.11 262.00L590.01 271.60L582.11 281.20L574.21 271.60ZM586.94 382.40L594.84 392.00L586.94 401.60L579.04 392.00ZM591.78 424.20L599.68 433.80L591.78 443.40L583.88 433.80ZM596.61 424.20L604.51 433.80L596.61 443.40L588.71 433.80ZM601.44 343.40L609.34 353.00L601.44 362.60L593.54 353.00ZM606.27 158.40L614.17 168.00L606.27 177.60L598.37 168.00ZM611.11 62.40L619.01 72.00L611.11 81.60L603.21 72.00ZM615.94 45.40L623.84 55.00L615.94 64.60L608.04 55.00ZM620.77 72.80L628.67 82.40L620.77 92.00L612.87 82.40ZM625.60 139.40L633.50 149.00L625.60 158.60L617.70 149.00ZM630.44 263.40L638.34 273.00L630.44 282.60L622.54 273.00ZM635.27 383.40L643.17 393.00L635.27 402.60L627.37 393.00ZM640.10 424.20L648.00 433.80L640.10 443.40L632.20 433.80ZM644.93 424.40L652.83 434.00L644.93 443.60L637.03 434.00ZM649.77 333.40L657.67 343.00L649.77 352.60L641.87 343.00ZM654.60 154.80L662.50 164.40L654.60 174.00L646.70 164.40ZM659.43 57.40L667.33 67.00L659.43 76.60L651.53 67.00ZM664.26 44.80L672.16 54.40L664.26 64.00L656.36 54.40ZM669.10 72.80L677.00 82.40L669.10 92.00L661.20 82.40ZM673.93 146.80L681.83 156.40L673.93 166.00L666.03 156.40ZM678.76 271.40L686.66 281.00L678.76 290.60L670.86 281.00ZM683.59 385.40L691.49 395.00L683.59 404.60L675.69 395.00ZM688.43 424.20L696.33 433.80L688.43 443.40L680.53 433.80ZM693.26 423.60L701.16 433.20L693.26 442.80L685.36 433.20ZM698.09 332.00L705.99 341.60L698.09 351.20L690.19 341.60ZM702.93 156.40L710.83 166.00L702.93 175.60L695.03 166.00ZM707.76 64.40L715.66 74.00L707.76 83.60L699.86 74.00ZM712.59 49.40L720.49 59.00L712.59 68.60L704.69 59.00ZM717.42 76.80L725.32 86.40L717.42 96.00L709.52 86.40ZM722.26 150.00L730.16 159.60L722.26 169.20L714.36 159.60ZM727.09 274.40L734.99 284.00L727.09 293.60L719.19 284.00ZM731.92 381.40L739.82 391.00L731.92 400.60L724.02 391.00ZM736.75 419.70L744.65 429.30L736.75 438.90L728.85 429.30ZM741.59 415.90L749.49 425.50L741.59 435.10L733.69 425.50ZM746.42 317.40L754.32 327.00L746.42 336.60L738.52 327.00ZM751.25 153.40L759.15 163.00L751.25 172.60L743.35 163.00ZM756.08 67.40L763.98 77.00L756.08 86.60L748.18 77.00ZM760.92 54.90L768.82 64.50L760.92 74.10L753.02 64.50ZM765.75 88.80L773.65 98.40L765.75 108.00L757.85 98.40ZM770.58 160.40L778.48 170.00L770.58 179.60L762.68 170.00ZM775.41 278.80L783.31 288.40L775.41 298.00L767.51 288.40ZM780.25 408.40L788.15 418.00L780.25 427.60L772.35 418.00ZM785.08 425.90L792.98 435.50L785.08 445.10L777.18 435.50ZM789.91 429.40L797.81 439.00L789.91 448.60L782.01 439.00ZM794.74 430.40L802.64 440.00L794.74 449.60L786.84 440.00Z" fill="#D95319"/>
<path transform="translate(41.62 22.85) scale(0.01343 -0.01343)" d="M763 0L583 0L583 1147C540 1106 483 1064 412 1023C341 982 278 950 222 930L222 1104C323 1151 411 1208 486 1276C561 1343 615 1409 646 1472L763 1472Z" fill="#000"/>
<text x="56.91" y="22.85" font-family="Liberation Sans, sans-serif" font-size="27.5" fill="#000">0</text>
<text x="72.21" y="22.85" font-family="Liberation Sans, sans-serif" font-size="27.5" fill="#000">0</text>
<text x="56.91" y="114.38" font-family="Liberation Sans, sans-serif" font-size="27.5" fill="#000">8</text>
<text x="72.21" y="114.38" font-family="Liberation Sans, sans-serif" font-size="27.5" fill="#000">0</text>
<text x="56.91" y="205.91" font-family="Liberation Sans, sans-serif" font-size="27.5" fill="#000">6</text>
<text x="72.21" y="205.91" font-family="Liberation Sans, sans-serif" font-size="27.5" fill="#000">0</text>
<text x="56.91" y="297.44" font-family="Liberation Sans, sans-serif" font-size="27.5" fill="#000">4</text>
<text x="72.21" y="297.44" font-family="Liberation Sans, sans-serif" font-size="27.5" fill="#000">0</text>
<text x="56.91" y="388.97" font-family="Liberation Sans, sans-serif" font-size="27.5" fill="#000">2</text>
<text x="72.21" y="388.97" font-family="Liberation Sans, sans-serif" font-size="27.5" fill="#000">0</text>
<text x="72.21" y="480.50" font-family="Liberation Sans, sans-serif" font-size="27.5" fill="#000">0</text>
<text x="47.75" y="572.03" font-family="Liberation Sans, sans-serif" font-size="27.5" fill="#000">-</text>
<text x="56.91" y="572.03" font-family="Liberation Sans, sans-serif" font-size="27.5" fill="#000">2</text>
<text x="72.21" y="572.03" font-family="Liberation Sans, sans-serif" font-size="27.5" fill="#000">0</text>
<text x="91.20" y="646.70" font-family="Liberation Sans, sans-serif" font-size="27.5" fill="#000">0</text>
<text x="212.02" y="646.70" font-family="Liberation Sans, sans-serif" font-size="27.5" fill="#000">5</text>
<path transform="translate(325.19 646.70) scale(0.01343 -0.01343)" d="M763 0L583 0L583 1147C540 1106 483 1064 412 1023C341 982 278 950 222 930L222 1104C323 1151 411 1208 486 1276C561 1343 615 1409 646 1472L763 1472Z" fill="#000"/>
<text x="340.48" y="646.70" font-family="Liberation Sans, sans-serif" font-size="27.5" fill="#000">0</text>
<path transform="translate(446.00 646.70) scale(0.01343 -0.01343)" d="M763 0L583 0L583 1147C540 1106 483 1064 412 1023C341 982 278 950 222 930L222 1104C323 1151 411 1208 486 1276C561 1343 615 1409 646 1472L763 1472Z" fill="#000"/>
<text x="461.29" y="646.70" font-family="Liberation Sans, sans-serif" font-size="27.5" fill="#000">5</text>
<text x="566.82" y="646.70" font-family="Liberation Sans, sans-serif" font-size="27.5" fill="#000">2</text>
<text x="582.11" y="646.70" font-family="Liberation Sans, sans-serif" font-size="27.5" fill="#000">0</text>
<text x="687.63" y="646.70" font-family="Liberation Sans, sans-serif" font-size="27.5" fill="#000">2</text>
<text x="702.93" y="646.70" font-family="Liberation Sans, sans-serif" font-size="27.5" fill="#000">5</text>
<text x="808.45" y="646.70" font-family="Liberation Sans, sans-serif" font-size="27.5" fill="#000">3</text>
<text x="823.74" y="646.70" font-family="Liberation Sans, sans-serif" font-size="27.5" fill="#000">0</text>
<text x="462" y="690" font-family="Liberation Sans, sans-serif" font-size="33.4" text-anchor="middle" fill="#000">Time (s)</text>
<text transform="translate(25.6 310) rotate(-90)" font-family="Liberation Sans, sans-serif" font-size="33.2" text-anchor="middle" fill="#000">Pressure and angle</text>
<path d="M133.1 66 L878 66" stroke="#000" stroke-width="2.8" stroke-dasharray="13.6 11.17" fill="none"/>
<path d="M93 432.7 L894 432.7" stroke="#000" stroke-width="2.8" stroke-dasharray="13.6 11.17" fill="none"/>
<path d="M846.4 87 L846.4 415" stroke="#000" stroke-width="2" fill="none"/>
<path d="M846.4 77.8 L851.4 88 L841.4 88 Z" fill="#000"/>
<path d="M846.4 424.2 L851.4 414 L841.4 414 Z" fill="#000"/>
<text transform="translate(904 278.3) rotate(90)" font-family="Liberation Sans, sans-serif" font-size="31.8" text-anchor="middle" fill="#000">Average range of</text>
<text transform="translate(866.3 278.3) rotate(90)" font-family="Liberation Sans, sans-serif" font-size="31.5" text-anchor="middle" fill="#000">motion 82.83 deg</text>
<path d="M148 449.9 L148 607.6 M158.3 449.9 L158.3 607.6" stroke="#000" stroke-width="2" stroke-dasharray="8.6 7.9" fill="none"/>
<path d="M117.7 544.1 L134 544.1 M172 544.1 L251.8 544.1" stroke="#000" stroke-width="4.4" fill="none"/>
<path d="M146.9 544.1 L133.6 537 L133.6 551 Z M159 544.1 L172.5 537 L172.5 551 Z" fill="#000"/>
<path d="M147 544.1 L159 544.1" stroke="#000" stroke-width="2" fill="none"/>
<text x="179.8" y="535.8" font-family="Liberation Sans, sans-serif" font-size="25.3" fill="#000">0.39 s</text>
<ellipse cx="535.3" cy="460.35" rx="27.1" ry="26.3" stroke="#000" stroke-width="3.2" fill="none"/>
<path d="M389.1 542.9 L466 542.9 L508 492.5" stroke="#000" stroke-width="3.2" fill="none" stroke-linejoin="miter"/>
<path d="M513.6 485.6 L503.1 490.5 L507.9 492.4 L510.7 496.9 Z" fill="#000"/>
<text x="388.5" y="533.5" font-family="Liberation Sans, sans-serif" font-size="25" fill="#000">7.5 deg</text>
<rect x="509" y="523.7" width="266.5" height="69.8" fill="#fff" stroke="#000" stroke-width="1.8"/>
<path d="M517.7 542.8 L533.4 542.8 M549.2 542.8 L564.9 542.8 M580.7 542.8 L596.4 542.8 M598.3 542.8 L600.2 542.8" stroke="#0072BD" stroke-width="3.5" fill="none"/>
<path d="M517.7 575.2 L600 575.2" stroke="#D95319" stroke-width="3.5" fill="none"/>
<path d="M558.6 568.6 L563.7 575.2 L558.6 581.8 L553.5 575.2 Z" stroke="#D95319" stroke-width="3.6" fill="#fff" stroke-linejoin="miter" stroke-miterlimit="10"/>
<path d="M553 575.2 L564 575.2" stroke="#D95319" stroke-width="3.5" fill="none"/>
<text x="606.3" y="552.5" font-family="Liberation Sans, sans-serif" font-size="24.9" fill="#000">Set Pressure</text>
<text x="605.6" y="584.1" font-family="Liberation Sans, sans-serif" font-size="25.1" fill="#000">Bending Angle</text>
</svg></body></html>
